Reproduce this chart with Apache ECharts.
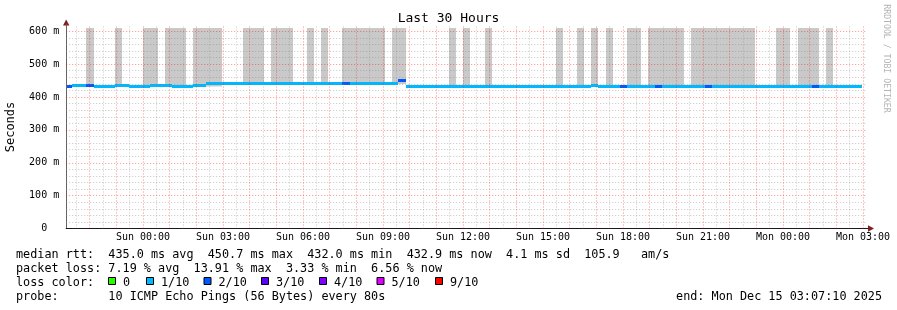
<!DOCTYPE html>
<html><head><meta charset="utf-8">
<script src="https://cdn.jsdelivr.net/npm/echarts@6/dist/echarts.min.js"></script>
<style>html,body{margin:0;padding:0;background:#fff}#c{width:897px;height:310px}</style>
</head><body><div id="c"></div>
<script>
// ---- data ----
const title = 'Last 30 Hours';
const rangeStart = 'Sat 21:07:10';
const rangeEnd = 'Mon 03:07:10';
const tickHours = [0, 3, 6, 9, 12, 15, 18, 21, 24, 27];
const tickLabels = ['Sun 00:00','Sun 03:00','Sun 06:00','Sun 09:00','Sun 12:00','Sun 15:00','Sun 18:00','Sun 21:00','Mon 00:00','Mon 03:00'];

// smoke (ping spread) bars
const smokeStart = ['Sat 21:52','Sat 22:58','Sun 00:00','Sun 00:50','Sun 01:52','Sun 03:45','Sun 04:48','Sun 06:09','Sun 06:40','Sun 07:28','Sun 09:20','Sun 11:28','Sun 12:00','Sun 12:49','Sun 15:29','Sun 16:16','Sun 16:48','Sun 17:22','Sun 18:09','Sun 18:56','Sun 20:33','Sun 23:44','Mon 00:34','Mon 01:37'];
const smokeEnd   = ['Sat 22:10','Sat 23:13','Sun 00:34','Sun 01:36','Sun 02:58','Sun 04:32','Sun 05:37','Sun 06:25','Sun 06:56','Sun 09:04','Sun 09:52','Sun 11:44','Sun 12:16','Sun 13:05','Sun 15:45','Sun 16:32','Sun 17:04','Sun 17:37','Sun 18:40','Sun 20:17','Sun 22:57','Mon 00:16','Mon 01:21','Mon 01:52'];
const smokeLow   = [432,432,432,432,432,442,442,442,442,440,440,433,433,433,433,433,433,433,433,433,433,433,433,433];
const smokeHigh  = [610,610,610,610,610,610,610,610,610,610,610,610,610,610,610,610,610,610,610,610,610,610,610,610];

// median rtt segments (ms) and loss level index
const medianStart = ['Sat 21:08','Sat 21:20','Sat 21:52','Sat 22:10','Sat 22:57','Sat 23:28','Sun 00:16','Sun 01:05','Sun 01:52','Sun 02:22','Sun 07:28','Sun 07:46','Sun 09:02','Sun 09:34','Sun 09:51','Sun 16:48','Sun 17:04','Sun 17:53','Sun 18:09','Sun 19:12','Sun 19:28','Sun 21:04','Sun 21:20','Mon 01:05','Mon 01:21'];
const medianLast = 'Mon 02:58';
const medianValue = [433,434,434,432,434,432,434,432,434,442,442,442,440,450.7,433,434,433,433,433,433,433,433,433,433,433];
const medianLoss  = [2,1,2,1,1,1,1,1,1,1,2,1,1,2,1,1,1,2,1,2,1,2,1,2,1];

const lossColors = ['#26ff00','#00b8ff','#0059ff','#5e00ff','#7e00ff','#dd00ff','#ff0000'];
const lossLabels = ['0','1/10','2/10','3/10','4/10','5/10','9/10'];
const rttStats = ['435.0','450.7','432.0','432.9','4.1','105.9'];
const lossStats = ['7.19','13.91','3.33','6.56'];
const probeText = '10 ICMP Echo Pings (56 Bytes) every 80s';
const endText = 'end: Mon Dec 15 03:07:10 2025';

// ---- helpers ----
function toHours(s) {
  const [d, hm] = s.split(' ');
  const p = hm.split(':').map(Number);
  const off = {Sat: -24, Sun: 0, Mon: 24}[d];
  return off + p[0] + p[1] / 60 + (p[2] || 0) / 3600;
}
const smokeData = smokeStart.map((s, i) => [toHours(s), toHours(smokeEnd[i]), smokeLow[i], smokeHigh[i]]);
const medianData = medianStart.map((s, i) => [toHours(s), toHours(i + 1 < medianStart.length ? medianStart[i + 1] : medianLast), medianValue[i], medianLoss[i]]);

const MONO = 'DejaVu Sans Mono';
const LF = '11.8px ' + MONO;
const majorC = 'rgba(255,0,0,0.45)';
const minorC = 'rgba(128,128,128,0.45)';
const gridLines = [];
for (let v = 20; v <= 600; v += 20) {
  gridLines.push({yAxis: v, lineStyle: {color: v % 100 === 0 ? majorC : minorC, type: [1, 2], width: 1}});
}
for (let t = -2.5; t <= 27; t += 0.5) {
  gridLines.push({xAxis: t, lineStyle: {color: Number.isInteger(t) ? majorC : minorC, type: [1, 2], width: 1}});
}

const chart = echarts.init(document.getElementById('c'), null, {renderer: 'canvas'});

const squareX = [108.5, 146.5, 204, 261.5, 319.5, 377, 435.5];
const legendGraphics = [];
lossColors.forEach((c, i) => {
  legendGraphics.push({type: 'rect', shape: {x: squareX[i], y: 277.5, width: 7, height: 7}, style: {fill: c, stroke: '#000', lineWidth: 1}});
  legendGraphics.push({type: 'text', x: squareX[i] + 14.5, y: 282.5, style: {text: lossLabels[i], font: LF, fill: '#000', verticalAlign: 'middle'}});
});

chart.setOption({
  animation: false,
  backgroundColor: '#fff',
  grid: {left: 66.2, right: 30.8, top: 24.73, bottom: 81.5, containLabel: false},
  xAxis: {
    type: 'value', min: toHours(rangeStart), max: toHours(rangeEnd),
    axisLine: {show: true, onZero: false, lineStyle: {color: '#1a1a1a', width: 1}},
    axisTick: {show: false},
    splitLine: {show: false},
    axisLabel: {
      customValues: tickHours,
      formatter: v => { const i = tickHours.indexOf(Math.round(v)); return i >= 0 ? tickLabels[i] : ''; },
      fontFamily: MONO, fontSize: 10, color: '#000', margin: 4
    }
  },
  yAxis: {
    type: 'value', min: 0, max: 620, interval: 100,
    axisLine: {show: true, onZero: false, lineStyle: {color: '#666', width: 1}},
    axisTick: {show: false},
    splitLine: {show: false},
    axisLabel: {
      formatter: v => v % 100 !== 0 ? '' : (v === 0 ? '0  ' : v + ' m'),
      fontFamily: MONO, fontSize: 10, color: '#000', margin: 7
    }
  },
  series: [
    {
      type: 'custom', name: 'smoke', z: 1, clip: true,
      encode: {x: [0, 1], y: [2, 3]},
      data: smokeData,
      renderItem: (params, api) => {
        const p1 = api.coord([api.value(0), api.value(3)]);
        const p2 = api.coord([api.value(1), api.value(2)]);
        const x1 = Math.round(p1[0]), x2 = Math.round(p2[0]);
        const y1 = Math.round(p1[1]);
        return {type: 'rect', shape: {x: x1, y: y1, width: x2 - x1, height: p2[1] - y1}, style: {fill: '#c9c9c9'}};
      }
    },
    {
      type: 'line', name: 'grid', z: 3, data: [], silent: true,
      markLine: {silent: true, symbol: ['none', 'none'], label: {show: false}, animation: false, emphasis: {disabled: true}, data: gridLines}
    },
    {
      type: 'custom', name: 'median', z: 4, clip: true,
      encode: {x: [0, 1], y: 2},
      data: medianData,
      renderItem: (params, api) => {
        const p1 = api.coord([api.value(0), api.value(2)]);
        const p2 = api.coord([api.value(1), api.value(2)]);
        const x1 = Math.round(p1[0]), x2 = Math.round(p2[0]);
        const y = Math.round(p1[1] - 1.5);
        return {type: 'rect', shape: {x: x1, y: y, width: x2 - x1, height: 3}, style: {fill: lossColors[api.value(3)]}};
      }
    }
  ],
  graphic: [
    {type: 'text', x: 448.5, y: 19, style: {text: title, font: '13px ' + MONO, fill: '#000', align: 'center', verticalAlign: 'middle'}},
    {type: 'text', x: 11, y: 127, rotation: Math.PI / 2, style: {text: 'Seconds', font: '12px ' + MONO, fill: '#000', align: 'center', verticalAlign: 'middle'}},
    {type: 'text', x: 886, y: 58.5, rotation: -Math.PI / 2, style: {text: 'RRDTOOL / TOBI OETIKER', font: '8.2px ' + MONO, fill: '#b4b4b4', align: 'center', verticalAlign: 'middle'}},
    {type: 'polygon', shape: {points: [[66.2, 19.5], [63, 25.5], [69.4, 25.5]]}, style: {fill: '#7f1f1f'}},
    {type: 'line', shape: {x1: 866, y1: 228.5, x2: 869, y2: 228.5}, style: {stroke: '#1a1a1a', lineWidth: 1}},
    {type: 'polygon', shape: {points: [[874, 228.5], [868, 225.3], [868, 231.7]]}, style: {fill: '#7f1f1f'}},
    {type: 'text', x: 16, y: 255, style: {text: 'median rtt:  ' + rttStats[0] + ' ms avg  ' + rttStats[1] + ' ms max  ' + rttStats[2] + ' ms min  ' + rttStats[3] + ' ms now  ' + rttStats[4] + ' ms sd  ' + rttStats[5] + '   am/s', font: LF, fill: '#000', verticalAlign: 'middle'}},
    {type: 'text', x: 16, y: 269, style: {text: 'packet loss: ' + lossStats[0] + ' % avg  ' + lossStats[1] + ' % max  ' + lossStats[2] + ' % min  ' + lossStats[3] + ' % now', font: LF, fill: '#000', verticalAlign: 'middle'}},
    {type: 'text', x: 16, y: 282.5, style: {text: 'loss color:', font: LF, fill: '#000', verticalAlign: 'middle'}},
    ...legendGraphics,
    {type: 'text', x: 16, y: 297, style: {text: 'probe:       ' + probeText, font: LF, fill: '#000', verticalAlign: 'middle'}},
    {type: 'text', x: 882, y: 297, style: {text: endText, font: LF, fill: '#000', align: 'right', verticalAlign: 'middle'}}
  ]
});
</script>
</body></html>
